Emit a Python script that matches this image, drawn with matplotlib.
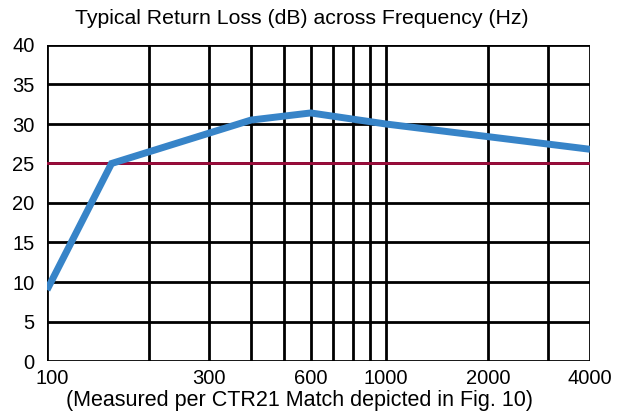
import numpy as np
import matplotlib
matplotlib.use("Agg")
import matplotlib.pyplot as plt
import matplotlib.transforms as mtransforms
from matplotlib.ticker import FixedLocator, NullLocator

plt.rcParams['font.family'] = ['Liberation Sans', 'DejaVu Sans']

# Return loss curve
freq_hz = [100, 155, 400, 600, 1000, 4000]
return_loss_db = [9.0, 25.0, 30.5, 31.4, 30.0, 26.8]

limit_db = 25  # CTR21 limit line

grid_freqs = [100, 200, 300, 400, 500, 600, 700, 800, 900, 1000, 2000, 3000, 4000]
label_freqs = [100, 300, 600, 1000, 2000, 4000]
y_ticks = [0, 5, 10, 15, 20, 25, 30, 35, 40]

fig = plt.figure(figsize=(6.24, 4.15), dpi=100)
ax = fig.add_axes([47/624, 54/415, 543/624, 316/415])

ax.set_xscale('log')
ax.set_xlim(100, 4000)
ax.set_ylim(0, 40)

# grid, drawn as lines so every frequency gets one
for f in grid_freqs:
    ax.axvline(f, color='black', lw=2, zorder=1)
for y in y_ticks:
    ax.axhline(y, color='black', lw=2, zorder=1)

ax.axhline(limit_db, color='#9e0b3b', lw=2, zorder=2)
ax.plot(freq_hz, return_loss_db, color='#3784c8', lw=5, zorder=3,
        solid_joinstyle='miter', solid_capstyle='butt')

ax.xaxis.set_major_locator(FixedLocator(label_freqs))
ax.xaxis.set_minor_locator(NullLocator())
ax.set_xticklabels([str(f) for f in label_freqs])
ax.set_yticks(y_ticks)
ax.tick_params(axis='both', length=0, labelsize=14.5)
ax.tick_params(axis='x', pad=6)
ax.tick_params(axis='y', pad=9)

# the "100" label sits a little right of its line in the original
first = ax.get_xticklabels()[0]
first.set_transform(first.get_transform() +
                    mtransforms.ScaledTranslation(5/100, 0, fig.dpi_scale_trans))

for s in ax.spines.values():
    s.set_visible(False)

fig.text(302/624, 1 - 18/415, "Typical Return Loss (dB) across Frequency (Hz)",
         ha='center', va='center', fontsize=15.3)
fig.text(300/624, 1 - 400/415, "(Measured per CTR21 Match depicted in Fig. 10)",
         ha='center', va='center', fontsize=15.5)

fig.savefig("out.png", dpi=100)
